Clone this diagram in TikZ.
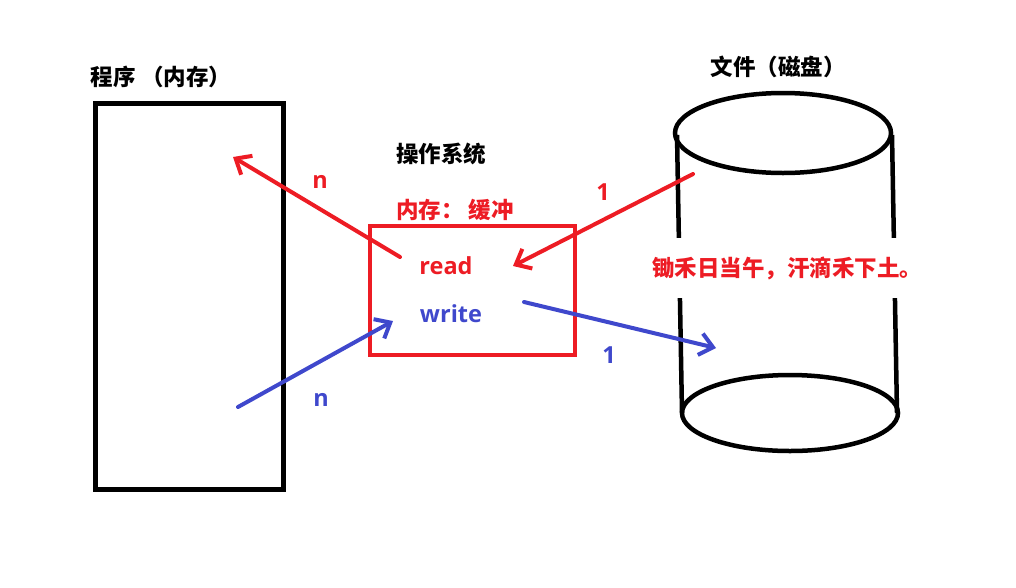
\documentclass[tikz,border=0pt]{standalone}
\usepackage{fontspec}
\setmainfont{Open Sans}
\newfontfamily\cjk{Noto Sans CJK SC}
\usetikzlibrary{arrows.meta}
\definecolor{paintred}{RGB}{237,28,36}
\definecolor{paintblue}{RGB}{63,72,204}
\begin{document}
\begin{tikzpicture}[x=1pt,y=-1pt,>={Straight Barb[length=13pt,width=22pt]},
  every node/.style={font=\fontsize{23.5}{26}\selectfont\bfseries,inner sep=0pt},
  zh/.style={font=\fontsize{22.5}{26}\selectfont\cjk\bfseries},
  flow/.style={->,line width=4pt,line cap=round}]
\useasboundingbox (0,0) rectangle (1016,587);
\node[draw,line width=5pt,minimum width=188pt,minimum height=386pt] (prog) at (189,296) {};
\node[draw,paintred,line width=4.5pt,minimum width=205pt,minimum height=129pt] (buf) at (472.5,290.5) {};
\node[zh] (progT) at (161,77) {程序 （内存）};
\node[zh] (osT) at (441,154) {操作系统};
\node[zh,paintred] (memT) at (455,210) {内存： 缓冲};
\node[paintred] (rd) at (446,266) {read};
\node[paintblue] (wr) at (451,314) {write};
\node[zh] (fileT) at (778,67) {文件（磁盘）};
% disk
\draw[line width=4.5pt] (783,133) ellipse [x radius=108pt,y radius=40pt];
\draw[line width=4.5pt] (790,413) ellipse [x radius=108pt,y radius=38pt];
\draw[line width=4.5pt] (677,135) -- (682,413);
\draw[line width=4.5pt] (892,135) -- (897,413);
\node[zh,paintred,fill=white,inner xsep=2pt,inner ysep=18pt] (poem) at (787,268) {锄禾日当午，汗滴禾下土。};
% flows
\coordinate (rdA) at (400,257);
\coordinate (rdB) at (233,157);
\coordinate (wrA) at (238,407);
\coordinate (wrB) at (393,321);
\coordinate (fiA) at (693,174);
\coordinate (fiB) at (513,266);
\coordinate (foA) at (524,302);
\coordinate (foB) at (716,348);
\draw[flow,paintred] (rdA) -- (rdB);
\draw[flow,paintblue] (wrA) -- (wrB);
\draw[flow,paintred] (fiA) -- (fiB);
\draw[flow,paintblue] (foA) -- (foB);
\node[paintred] (nR) at (320,182) {n};
\node[paintred] (oneR) at (603,192) {1};
\node[paintblue] (nW) at (321,400) {n};
\node[paintblue] (oneW) at (609,355) {1};
\end{tikzpicture}
\end{document}
